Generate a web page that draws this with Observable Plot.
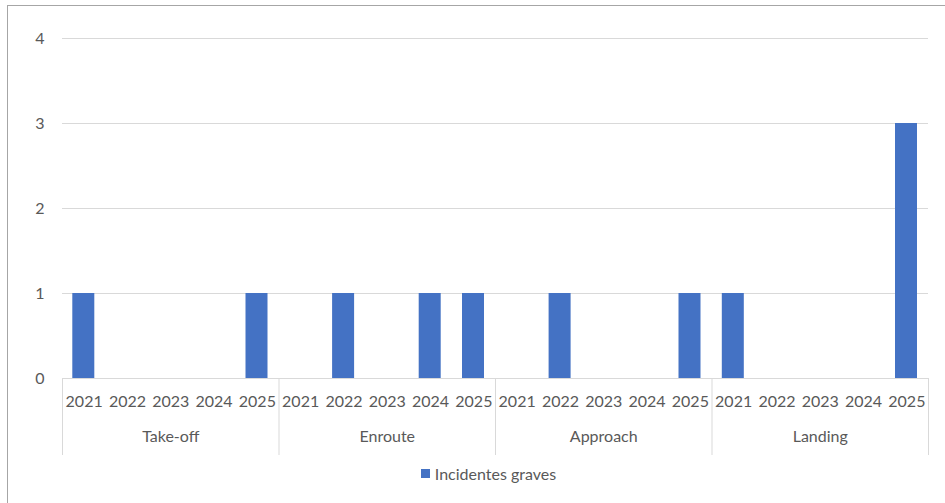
<!DOCTYPE html>
<html><head><meta charset="utf-8">
<script src="https://cdn.jsdelivr.net/npm/d3@7"></script>
<script src="https://cdn.jsdelivr.net/npm/@observablehq/plot@0.6"></script>
<style>
body{margin:0;background:#fff;}
#wrap{position:relative;width:945px;height:503px;overflow:hidden;background:#fff;font-family:Lato,"Open Sans",sans-serif;}
#frame{position:absolute;left:7px;top:5px;width:950px;height:510px;border-left:1px solid #a6a6a6;border-top:1px solid #a6a6a6;box-sizing:border-box;}
#chart{position:absolute;left:0;top:0;}
#legend{position:absolute;top:463px;left:0;width:945px;height:20px;display:flex;justify-content:center;align-items:center;color:#595959;font-size:16px;padding-left:32px;box-sizing:border-box;}
#legend .sw{display:inline-block;width:9px;height:9px;background:#4472C4;margin-right:5px;}
</style></head>
<body>
<div id="wrap"><div id="chart"></div><div id="frame"></div>
<div id="legend"><span class="sw"></span><span>Incidentes graves</span></div></div>
<script>
const phases = ["Take-off", "Enroute", "Approach", "Landing"];
const years = ["2021", "2022", "2023", "2024", "2025"];
const takeoff = [1, 0, 0, 0, 1];
const enroute = [0, 1, 0, 1, 1];
const approach = [0, 1, 0, 0, 1];
const landing = [1, 0, 0, 0, 3];
const yTicks = [0, 1, 2, 3, 4];

const series = [takeoff, enroute, approach, landing];
const rows = [];
phases.forEach((p, i) => years.forEach((y, j) => rows.push({phase: p, year: y, key: p + "|" + y, value: series[i][j]})));
const keys = rows.map(d => d.key);

const W = 945, H = 460, mL = 62, mR = 17, mT = 38, mB = 82;
const bw = (W - mL - mR) / keys.length;
const pxPerUnit = (H - mB - mT) / 4;
const yDiv = -(455 - 378) / pxPerUnit;
const yGroup = -(436 - 378) / pxPerUnit;
const txt = "#595959", grid = "#d9d9d9";

const chart = Plot.plot({
  width: W, height: H,
  marginLeft: mL, marginRight: mR, marginTop: mT, marginBottom: mB,
  style: {fontFamily: "Lato, 'Open Sans', sans-serif", fontSize: "16px", color: txt, background: "transparent"},
  x: {type: "band", domain: keys, padding: 0, round: false},
  y: {domain: [0, 4]},
  marks: [
    Plot.ruleY(yTicks.filter(t => t > 0), {stroke: grid, strokeWidth: 1}),
    Plot.ruleY([0], {stroke: grid}),
    Plot.barY(rows.filter(d => d.value > 0), {x: "key", y: "value", fill: "#4472C4", insetLeft: 10.3, insetRight: 11}),
    Plot.axisY({ticks: yTicks, tickSize: 0, tickPadding: 18, tickFormat: d => d, label: null, fill: txt}),
    Plot.axisX({tickSize: 0, tickPadding: 17, tickFormat: d => d.split("|")[1], label: null, fill: txt}),
    Plot.ruleX(phases.map(p => p + "|2021"), {x: d => d, y1: 0, y2: yDiv, dx: -bw / 2, stroke: grid}),
    Plot.ruleX([keys[keys.length - 1]], {x: d => d, y1: 0, y2: yDiv, dx: bw / 2, stroke: grid}),
    Plot.text(phases, {x: p => p + "|2023", y: yGroup, text: d => d, fill: txt, fontSize: 16})
  ]
});
document.getElementById("chart").appendChild(chart);
</script>
</body></html>
